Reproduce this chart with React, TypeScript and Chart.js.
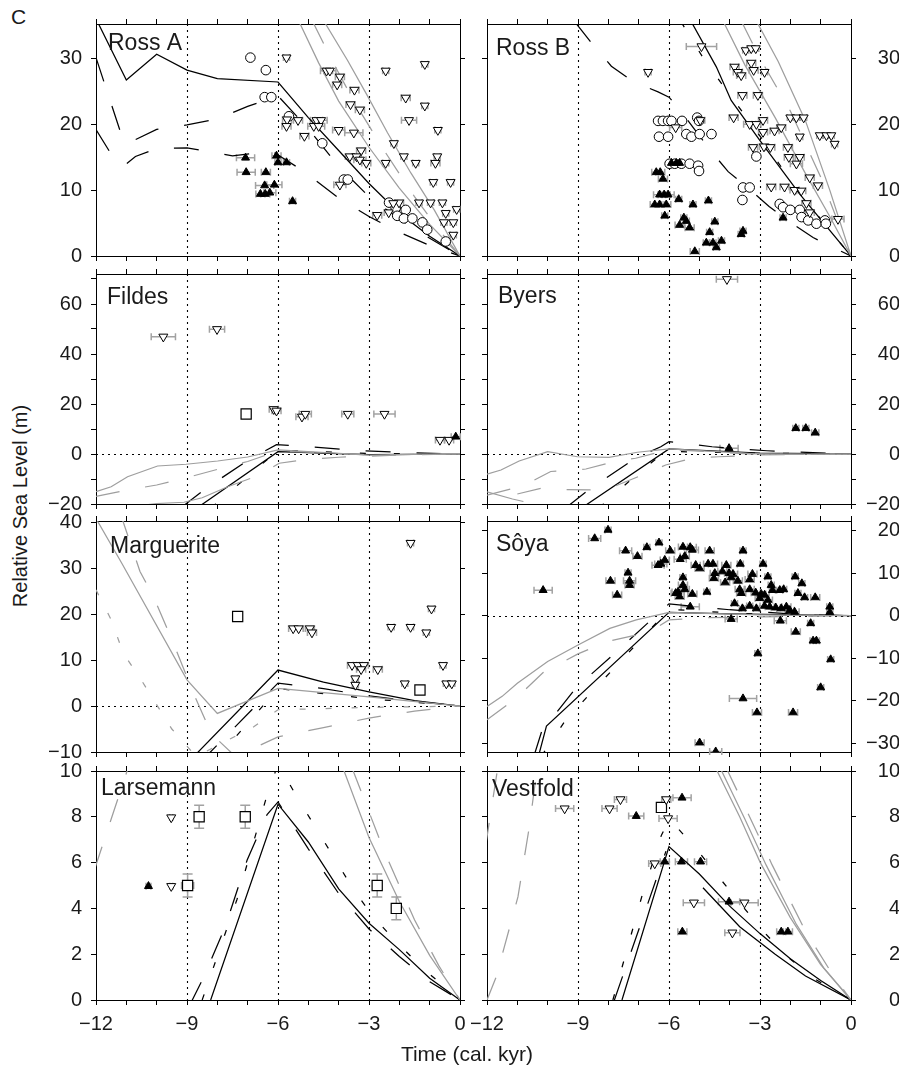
import React, { useEffect, useRef } from 'react';
import { Chart, registerables } from 'chart.js';

Chart.register(...registerables);

const FONT = "'Liberation Sans', Arial, Helvetica, sans-serif";
const BLACK = '#000000';
const GRAY = '#9e9e9e';
const ERR_GRAY = '#a2a2a2';
const TEXT = '#1a1a1a';
const SOLID: number[] = [];
const LONG = [25, 26];
const SHORT = [6, 28];
const GLONG = [24, 26];
const GSHORT = [6, 20];

// ---------- axes ----------
const X_TICKS = [-12, -11, -10, -9, -8, -7, -6, -5, -4, -3, -2, -1, 0];
const X_LABELS = [-12, -9, -6, -3, 0];
const REF_X = [-9, -6, -3];
const ROSS_TICKS = [0, 10, 20, 30];
const SHET_TICKS = [-20, -10, 0, 10, 20, 30, 40, 50, 60, 70];
const SHET_LABELS = [-20, 0, 20, 40, 60];
const MARG_TICKS = [-10, 0, 10, 20, 30, 40];
const SOYA_TICKS = [-30, -20, -10, 0, 10, 20];
const EAST_TICKS = [0, 2, 4, 6, 8, 10];

// ---------- Ross A ----------
const rossA_blkSolid = [[-12, 36], [-11, 26.7], [-10, 30.6], [-9, 28.2], [-8, 26.9], [-6, 26.4], [-5, 21], [-4, 16], [-3, 11], [-2, 6.5], [-1, 3], [0, 0]];
const rossA_blkLong = [[-12, 30.1], [-11.2, 18.9], [-11, 17], [-10, 19.2], [-9, 19.9], [-8, 20.8], [-7, 22.7], [-6, 24.3], [-5, 19.3], [-4, 13.6], [-3, 9], [-2, 5.6], [-1, 2.7], [0, 0]];
const rossA_blkLow = [[-12, 19.2], [-11.4, 14.7], [-11.1, 13.6], [-10.7, 15.1], [-10, 16.3], [-9, 16.4], [-7.5, 15.2], [-6.2, 15.9], [-5.2, 13], [-4, 8.8], [-3, 6], [-2, 3.6], [-1, 1.6], [0, 0]];
const rossA_graySolid1 = [[-5.3, 35.5], [-4.66, 29.3], [-4, 23.5], [-3, 16.5], [-2, 10.3], [-1, 4.8], [0, 0]];
const rossA_grayLong = [[-4.85, 35.5], [-4.2, 29.5], [-3.5, 23.5], [-2.5, 16], [-1.5, 9], [-0.7, 4], [0, 0]];
const rossA_graySolid2 = [[-4.43, 35.2], [-3.71, 29.7], [-3.05, 24.3], [-2.39, 18.7], [-1.62, 12.6], [-0.85, 7], [0, 0]];
const rossA_circles = [[-6.91, 30.1], [-6.4, 28.2], [-6.44, 24.1], [-6.22, 24.1], [-5.64, 21.2], [-4.54, 17.1], [-3.83, 11.6], [-3.7, 11.6], [-2.34, 8.1], [-2.12, 7.3], [-1.79, 7.0], [-2.07, 6.1], [-1.85, 5.7], [-1.57, 5.7], [-1.24, 5.1], [-1.08, 4.0], [-0.47, 2.2]];
const rossA_openTri = [[-5.72, 30.1, 0.1], [-4.4, 28.1, 0.2], [-4.29, 28.1, 0.2], [-3.96, 27.2, 0.15], [-4.05, 26.0, 0.15], [-3.48, 25.2, 0.15], [-3.61, 23.0, 0.15], [-3.3, 22.2, 0.15], [-5.7, 20.7, 0.15], [-5.34, 20.6, 0.15], [-5.72, 19.7, 0.15], [-4.73, 20.6, 0.2], [-4.58, 20.6, 0.2], [-4.82, 19.7, 0.2], [-4.66, 19.7, 0.2], [-5.13, 18.2, 0.15], [-4.0, 19.1, 0.2], [-3.5, 18.7, 0.3], [-3.26, 16.0, 0.15], [-3.63, 15.1, 0.15], [-3.41, 15.1, 0.15], [-3.3, 14.6, 0.2], [-3.09, 14.1, 0.15], [-3.96, 10.8, 0.2], [-2.45, 28.1, 0.1], [-1.79, 24.0, 0.15], [-1.16, 22.8, 0.1], [-1.16, 29.1, 0.1], [-1.68, 20.6, 0.25], [-0.73, 19.1, 0.1], [-2.18, 17.1, 0.1], [-1.85, 15.1, 0.1], [-1.46, 14.1, 0.1], [-0.75, 15.1, 0.1], [-0.81, 14.1, 0.15], [-2.45, 14.1, 0.1], [-0.88, 11.2, 0.1], [-0.31, 11.2, 0.1], [-2.73, 6.2, 0.15], [-2.01, 8.1, 0.15], [-1.35, 8.1, 0.1], [-0.97, 8.1, 0.1], [-0.58, 8.1, 0.1], [-0.11, 7.1, 0.1], [-0.47, 6.5, 0.1], [-0.53, 5.1, 0.1], [-0.22, 5.1, 0.1], [-0.22, 3.2, 0.1], [-2.2, 8.0, 0.15], [-2.35, 6.6, 0.15]];
const rossA_filledTri = [[-7.07, 14.9, 0.3], [-7.05, 12.7, 0.3], [-6.4, 12.7, 0.15], [-6.44, 10.7, 0.3], [-6.12, 10.8, 0.25], [-6.58, 9.4, 0.15], [-6.42, 9.4, 0.15], [-6.27, 9.6, 0.2], [-6.05, 15.2, 0.15], [-6.0, 14.2, 0.1], [-5.72, 14.2, 0.1], [-5.52, 8.3, 0.1]];

// ---------- Ross B ----------
const rossB_blkSolid = [[-5.26, 35.5], [-4.44, 28.7], [-3.95, 23.6], [-3, 17.5], [-1.69, 9.4], [0, 0]];
const rossB_blkLong = [[-9.1, 35.5], [-8.5, 32], [-7.9, 28.8], [-7.2, 26.5], [-6.36, 24.9], [-6, 24.1], [-5.7, 22.5], [-5.04, 18.5], [-4.63, 16], [-4.05, 12.8], [-3.56, 11], [-2.7, 7.5], [-2, 5.1], [-1.25, 2.8], [-0.46, 1.0], [0, 0]];
const rossB_blkShort = [[-5.6, 35.5], [-4.8, 29.5], [-4, 24.5], [-3, 18.2], [-2, 11.5], [-1, 5.6], [0, 0]];
const rossB_graySolid1 = [[-4.2, 35.5], [-3.5, 29], [-2.5, 21], [-1.5, 12.5], [-0.7, 6], [0, 0]];
const rossB_grayLong = [[-3.6, 35.5], [-3, 30], [-2, 22], [-1, 12], [0, 0]];
const rossB_graySolid2 = [[-3.1, 35.5], [-2.4, 29.5], [-1.5, 20.5], [-0.7, 10], [0, 0]];
const rossB_circles = [[-6.36, 20.5], [-6.2, 20.5], [-6.03, 20.5], [-5.92, 20.5], [-5.57, 20.5], [-5.07, 21.0], [-5.01, 20.5], [-6.33, 18.1], [-6.03, 18.1], [-5.43, 18.5], [-5.26, 18.1], [-4.99, 18.5], [-4.6, 18.5], [-5.98, 14.0], [-5.81, 14.0], [-5.59, 14.0], [-5.32, 14.0], [-5.04, 13.7], [-5.01, 12.9], [-3.56, 10.4], [-3.34, 10.4], [-3.58, 8.5], [-3.12, 15.1], [-2.35, 7.9], [-2.24, 7.4], [-2.0, 7.0], [-1.69, 7.0], [-1.63, 5.9], [-1.41, 5.4], [-1.14, 4.9], [-0.86, 5.4], [-0.83, 4.9]];
const rossB_openTri = [[-4.93, 31.8, 0.5], [-6.69, 27.9, 0.1], [-3.47, 31.2, 0.1], [-3.29, 31.5, 0.1], [-3.14, 31.5, 0.1], [-3.29, 29.3, 0.15], [-3.84, 28.7, 0.15], [-3.73, 27.9, 0.15], [-3.62, 27.4, 0.15], [-3.21, 28.2, 0.15], [-2.85, 27.9, 0.1], [-3.58, 24.4, 0.15], [-3.07, 24.4, 0.15], [-3.87, 21.0, 0.15], [-3.34, 20.0, 0.2], [-3.12, 20.0, 0.15], [-2.9, 20.6, 0.15], [-2.9, 18.8, 0.15], [-2.52, 19.0, 0.15], [-2.3, 19.5, 0.15], [-2.0, 21.0, 0.1], [-1.8, 21.0, 0.1], [-1.56, 21.0, 0.1], [-1.69, 18.1, 0.1], [-3.23, 16.5, 0.15], [-2.87, 16.6, 0.15], [-2.66, 16.5, 0.15], [-2.08, 16.5, 0.15], [-2.05, 15.0, 0.15], [-1.69, 15.0, 0.15], [-1.8, 14.0, 0.2], [-1.36, 11.9, 0.15], [-2.63, 10.5, 0.15], [-2.19, 10.5, 0.15], [-1.86, 10.0, 0.15], [-1.64, 9.9, 0.15], [-1.09, 10.7, 0.15], [-1.47, 8.0, 0.15], [-1.36, 6.6, 0.15], [-0.43, 5.6, 0.2], [-1.03, 18.3, 0.1], [-0.81, 18.3, 0.1], [-0.65, 18.3, 0.1], [-0.54, 17.0, 0.1], [-5.78, 19.5, 0.2], [-4.97, 20.6, 0.15]];
const rossB_filledTri = [[-5.92, 14.1, 0.1], [-5.76, 14.1, 0.1], [-5.65, 14.1, 0.1], [-6.42, 12.7, 0.15], [-6.29, 12.7, 0.15], [-6.2, 11.7, 0.15], [-6.31, 9.3, 0.2], [-6.16, 9.3, 0.2], [-6.03, 9.3, 0.2], [-6.47, 7.8, 0.15], [-6.31, 7.8, 0.15], [-6.09, 7.8, 0.15], [-6.14, 6.1, 0.1], [-5.68, 8.6, 0.1], [-5.21, 7.8, 0.1], [-4.7, 8.4, 0.1], [-5.51, 5.8, 0.1], [-5.43, 5.3, 0.1], [-5.65, 4.7, 0.15], [-5.32, 4.3, 0.15], [-4.49, 5.2, 0.1], [-4.66, 3.6, 0.1], [-4.77, 2.0, 0.1], [-4.55, 2.0, 0.1], [-4.44, 1.3, 0.1], [-4.27, 2.3, 0.1], [-5.15, 0.7, 0.15], [-3.62, 3.3, 0.1], [-3.56, 3.8, 0.1], [-2.24, 5.8, 0.1]];

// ---------- Fildes ----------
const fildes_blkSolid = [[-8.66, -21.5], [-6, 0.9], [-3, -0.2], [0, 0]];
const fildes_blkLong = [[-9.2, -21.5], [-8.37, -13.7], [-6.89, -1.7], [-6.05, 3.7], [-5.2, 3.2], [-3.5, 1.5], [-1.7, 0.5], [0, 0]];
const fildes_blkShort = [[-8.2, -21.5], [-7.0, -9], [-6, 1.5], [-3, 0.2], [0, 0]];
const fildes_graySolid = [[-12, -15.1], [-11.5, -13.1], [-10.96, -9.1], [-9.97, -4.8], [-9.03, -4.1], [-7.99, -2.8], [-7, -1.2], [-6, 1.6], [-3, -0.4], [0, 0.2]];
const fildes_graySolidLow = [[-12, -23], [-10, -19.8], [-9.1, -19.3], [-8.5, -17.5], [-7.66, -13.1]];
const fildes_grayLong1 = [[-12, -17], [-11, -14.5], [-10, -12.4], [-8.9, -9.1], [-7.8, -5.5], [-7, -3], [-6, 1.2], [-3, -0.3], [0, 0]];
const fildes_grayLong2 = [[-7.66, -13.1], [-6.6, -8.4], [-5.96, -3.7], [-5, -2.1], [-4, -1.3], [-2, -0.4], [0, 0]];
const fildes_openTri = [[-9.78, 46.9, 0.4], [-8.01, 49.9, 0.25], [-6.14, 17.9, 0.15], [-6.05, 17.3, 0.15], [-5.21, 14.9, 0.2], [-5.1, 16, 0.2], [-3.7, 16, 0.2], [-2.49, 16, 0.35], [-0.66, 5.6, 0.15], [-0.36, 5.6, 0.15]];
const fildes_squares = [[-7.05, 16, 0, 0]];
const fildes_filledTri = [[-0.14, 6.9, 0.15]];

// ---------- Byers ----------
const byers_blkSolid = [[-8.87, -21.5], [-6, 2], [-3, 0.4], [0, 0]];
const byers_blkLong = [[-9.4, -21.5], [-8.58, -13.7], [-7.1, -1.7], [-6.27, 2.9], [-6, 4.9], [-5.45, 4.3], [-4.58, 2.9], [-3.7, 2.0], [-2.77, 1.3], [-1.95, 0.9], [0, 0]];
const byers_blkShort = [[-8.3, -21.5], [-7.15, -9.1], [-6.27, -0.4], [-6, 1.0], [-3, 0.3], [0, 0]];
const byers_graySolid = [[-12, -8.1], [-11.54, -6.4], [-10.94, -2.8], [-10, 0.9], [-9.02, -1.1], [-7.98, -1.3], [-7.04, 0.7], [-6, 2], [-3, 0], [0, 0]];
const byers_graySolidLow = [[-12, -15.1], [-11.16, -18], [-10.8, -19]];
const byers_grayLong1 = [[-12, -16.5], [-10.9, -13], [-10.7, -12.1], [-9.9, -7], [-8.74, -6], [-7.6, -2.4], [-7.1, -1.7], [-6, 1.8], [-3, -0.2], [0, 0]];
const byers_grayLong2 = [[-11, -16], [-10.2, -13.7], [-9.5, -14.2], [-8.1, -14.4], [-6.88, -8.4], [-6.11, -4.4], [-5.23, -1.7], [-4.36, -1.1], [-3, -0.4], [0, 0]];
const byers_openTri = [[-4.09, 69.9, 0.35]];
const byers_filledTri = [[-4.02, 2.3, 0.3], [-1.82, 10.3, 0.1], [-1.49, 10.3, 0.1], [-1.18, 8.5, 0.12]];

// ---------- Marguerite ----------
const marg_blkSolid = [[-9, -12.5], [-6, 7.85], [-4.5, 5.2], [-3, 3.1], [-1.5, 1.2], [0, 0]];
const marg_blkLong = [[-8.6, -12.5], [-6, 5], [-4.5, 3.8], [-3, 2.2], [-1.5, 1.0], [0, 0]];
const marg_blkShort = [[-8.1, -12], [-6, 3.8], [-3, 1.6], [0, 0]];
const marg_graySolid = [[-12.1, 42], [-11.15, 31.1], [-9, 5.7], [-8, -1.6], [-6, 3.85], [-3, 2], [0, 0]];
const marg_grayLong = [[-11.2, 42], [-10.55, 29.3], [-10.13, 24.2], [-9.45, 13.7], [-8.8, 3], [-8.2, -6], [-7.4, -11], [-6, -6.7], [-4.5, -4.7], [-3, -2.6], [-1.5, -1.1], [0, 0]];
const marg_grayShort = [[-12, 25.3], [-11.5, 18.8], [-11.1, 11.5], [-10.5, 5.6], [-9.5, -5], [-8.7, -11], [-6.8, -4.5], [-6, -0.8], [-3, -0.3], [0, 0]];
const marg_squares = [[-7.33, 19.5, 0, 0], [-1.32, 3.5, 0, 0]];
const marg_openTri = [[-5.5, 16.9, 0.15], [-5.32, 16.9, 0.15], [-4.95, 16.9, 0.15], [-4.88, 16.0, 0.15], [-3.56, 8.9, 0.15], [-3.37, 8.9, 0.15], [-3.17, 8.9, 0.15], [-3.26, 8.0, 0.15], [-3.45, 6.0, 0.1], [-3.45, 4.6, 0.1], [-2.71, 8.0, 0.15], [-2.27, 17.2, 0.1], [-1.63, 17.2, 0.1], [-1.63, 35.5, 0.1], [-1.11, 16.0, 0.1], [-0.94, 21.2, 0.1], [-1.82, 4.9, 0.1], [-0.56, 8.9, 0.1], [-0.45, 4.9, 0.1], [-0.27, 4.9, 0.1]];

// ---------- Sôya ----------
const soya_blkSolid = [[-10.3, -33], [-10.04, -26], [-6, 0.8], [-4, 0.4], [0, 0]];
const soya_blkLong = [[-10.45, -33], [-10.2, -27.3], [-9.07, -17], [-7.76, -8.7], [-6.47, -0.2], [-6, 2.8], [-5, 2.1], [-4, 1.4], [-2, 0.4], [0, 0]];
const soya_blkShort = [[-10.2, -33], [-9.4, -24.5], [-6, 1.5], [-3, 0.3], [0, 0]];
const soya_graySolid = [[-12, -21.4], [-11.5, -19], [-11, -15.9], [-10, -10.8], [-9, -6.9], [-7.95, -3], [-7.08, -1], [-6, 0.8], [-3, 0.2], [0, 0]];
const soya_grayLong = [[-12, -24.5], [-11.05, -19.5], [-10.15, -13.4], [-9, -9], [-8, -6], [-7, -4.4], [-6.3, -2.3], [-6, -1], [-5, -0.5], [0, 0]];
const soya_filledTri = [[-10.15, 6.0, 0.3], [-8.45, 18.2, 0.2], [-8.01, 20.2, 0.1], [-7.43, 15.3, 0.2], [-7.04, 14.0, 0.15], [-6.73, 16.1, 0.1], [-6.33, 17.2, 0.1], [-7.35, 10.1, 0.1], [-7.93, 8.2, 0.15], [-7.3, 8.2, 0.2], [-7.3, 7.2, 0.15], [-7.71, 4.9, 0.15], [-6.27, 12.2, 0.2], [-6.14, 13.1, 0.15], [-6.36, 11.9, 0.2], [-5.96, 15.3, 0.15], [-5.54, 16.2, 0.15], [-5.48, 14.0, 0.15], [-5.3, 16.1, 0.2], [-5.23, 15.5, 0.2], [-5.63, 13.3, 0.2], [-5.12, 11.9, 0.15], [-4.99, 11.1, 0.15], [-4.71, 12.2, 0.15], [-4.55, 12.2, 0.15], [-4.66, 15.3, 0.15], [-3.56, 15.3, 0.1], [-4.11, 11.9, 0.15], [-3.65, 12.2, 0.1], [-2.9, 12.2, 0.1], [-4.49, 10.0, 0.15], [-4.24, 10.4, 0.15], [-4.02, 10.0, 0.15], [-3.89, 9.8, 0.15], [-4.52, 8.8, 0.15], [-4.15, 7.8, 0.15], [-3.95, 9.0, 0.15], [-3.25, 9.8, 0.15], [-3.34, 8.5, 0.15], [-2.74, 9.2, 0.1], [-3.73, 8.2, 0.15], [-5.54, 9.0, 0.1], [-5.54, 7.2, 0.15], [-5.48, 6.2, 0.15], [-5.7, 5.6, 0.2], [-5.78, 5.3, 0.15], [-5.65, 4.5, 0.15], [-5.23, 5.1, 0.15], [-4.75, 5.6, 0.1], [-5.3, 2.1, 0.3], [-3.67, 6.2, 0.15], [-3.62, 5.3, 0.15], [-3.34, 6.2, 0.15], [-3.14, 5.4, 0.15], [-2.96, 5.1, 0.15], [-2.85, 4.9, 0.15], [-2.74, 3.7, 0.15], [-3.01, 4.1, 0.15], [-2.63, 7.2, 0.1], [-2.59, 6.0, 0.1], [-2.35, 6.0, 0.1], [-2.22, 6.2, 0.1], [-3.34, 2.3, 0.1], [-3.12, 1.7, 0.1], [-2.85, 2.3, 0.15], [-2.68, 2.1, 0.15], [-2.48, 1.9, 0.15], [-2.3, 1.7, 0.15], [-2.13, 2.1, 0.15], [-2.02, 1.3, 0.15], [-1.86, 0.9, 0.15], [-3.84, 2.9, 0.1], [-3.58, 1.7, 0.1], [-1.84, 9.2, 0.1], [-1.62, 7.6, 0.1], [-1.75, 5.3, 0.1], [-1.53, 4.3, 0.1], [-1.18, 4.3, 0.15], [-0.7, 2.1, 0.1], [-0.7, 0.8, 0.1], [-3.95, -0.8, 0.2], [-2.33, -1.2, 0.2], [-1.82, -3.8, 0.15], [-1.33, -1.8, 0.1], [-1.25, -5.9, 0.1], [-1.14, -5.9, 0.1], [-3.07, -8.9, 0.1], [-0.67, -10.3, 0.1], [-1.0, -16.9, 0.1], [-3.56, -19.5, 0.45], [-3.1, -22.8, 0.15], [-1.91, -22.8, 0.15], [-4.99, -29.9, 0.15], [-4.46, -32, 0.2]];

// ---------- Larsemann ----------
const lars_blkSolid = [[-8.22, 0], [-6, 8.55], [-5, 6.9], [-4, 4.85], [-3, 3.35], [-2, 2.2], [-1, 0.95], [0, 0]];
const lars_blkLong = [[-8.9, -0.2], [-8.45, 1.0], [-7.74, 3.2], [-7.02, 6.1], [-6.36, 8.1], [-6, 8.65], [-5, 6.6], [-4, 4.65], [-3, 3.1], [-2, 1.9], [-1, 0.8], [0, 0]];
const lars_blkShort = [[-8.5, 0], [-7.35, 4.4], [-6.36, 8.95], [-6, 10.3], [-5.3, 8.7], [-4.7, 7.4], [-4.1, 6.1], [-3.5, 4.8], [-2.84, 3.6], [-2.07, 2.5], [-1.24, 1.4], [0, 0]];
const lars_graySolid = [[-3.85, 10.1], [-3, 7.1], [-2, 4.3], [-1, 1.95], [0, 0]];
const lars_grayLong = [[-3.55, 10.1], [-2.5, 6.5], [-1.5, 3.5], [-0.7, 1.5], [0, 0]];
const lars_grayLeft = [[-12.05, 5.7], [-10.9, 10.3]];
const lars_filledTri = [[-10.27, 4.97, 0.08]];
const lars_openTri = [[-9.52, 7.97, 0.05], [-9.52, 4.97, 0.05]];
const lars_squares = [[-8.6, 8.0, 0, 0.5], [-7.08, 8.0, 0, 0.5], [-8.98, 5.0, 0.2, 0.5], [-2.73, 5.0, 0, 0.5], [-2.1, 4.0, 0, 0.5]];

// ---------- Vestfold ----------
const vest_blkSolid = [[-7.55, 0], [-6, 6.7], [-5, 5.5], [-4, 4.1], [-3, 2.9], [-2, 1.8], [-1, 0.85], [0, 0]];
const vest_blkSolidLow = [[-4.88, 4.9], [-3.67, 3.2], [-2.5, 2.0], [-1.5, 1.05], [0, 0]];
const vest_blkLong = [[-7.8, 0], [-6.1, 6.5]];
const vest_blkShort = [[-7.85, 0], [-6.9, 4.5], [-6.25, 7.2], [-5.98, 7.9], [-5.1, 6.6], [-4.44, 5.5], [-2.96, 3.1], [-2.19, 2.0], [-1.3, 1.0], [0, 0]];
const vest_graySolid1 = [[-4.45, 10.1], [-3.67, 8], [-2.99, 6], [-2, 3.6], [-1, 1.55], [0, 0]];
const vest_graySolid2 = [[-4.3, 10.1], [-3.5, 7.9], [-2.8, 5.9], [-1.8, 3.3], [-0.9, 1.4], [0, 0]];
const vest_grayLong = [[-4.1, 10.1], [-3.2, 7.6], [-2.6, 5.9], [-1.5, 3.0], [-0.6, 1.1], [0, 0]];
const vest_grayLeft1 = [[-12, 0], [-11.7, 1.0], [-10.98, 4.5], [-10.6, 7.6], [-10.35, 10.1]];
const vest_grayLeft2 = [[-12.05, 6.7], [-11.65, 10.1]];
const vest_openTri = [[-9.44, 8.36, 0.3], [-7.96, 8.36, 0.25], [-7.6, 8.76, 0.2], [-6.09, 8.76, 0.15], [-6.03, 7.93, 0.3], [-6.47, 5.96, 0.2], [-5.18, 4.25, 0.35], [-3.51, 4.25, 0.45], [-3.91, 2.94, 0.25]];
const vest_filledTri = [[-7.08, 8.03, 0.25], [-5.57, 8.83, 0.3], [-6.14, 6.04, 0.15], [-5.59, 6.04, 0.2], [-4.96, 6.04, 0.2], [-4.02, 4.29, 0.35], [-5.56, 2.98, 0.15], [-2.3, 2.98, 0.15], [-2.08, 2.98, 0.15]];
const vest_squares = [[-6.25, 8.41, 0.15, 0]];

// ---------- layout ----------
const COLS = [{ x: 96, w: 364 }, { x: 487, w: 364 }];
const ROWS = [{ y: 24, h: 232 }, { y: 274, h: 230 }, { y: 521, h: 231 }, { y: 771, h: 229 }];
const RIGHT_LABEL_EDGE = 900;
const TICK_LEN = 5;
const TICK_FONT_SIZE = 20;

type LineDef = { data: number[][]; color: string; dash: number[]; width?: number };
type PtKind = 'open' | 'filled' | 'circle' | 'square';
type PtDef = { data: number[][]; kind: PtKind };
type Panel = {
  key: string; label: string; col: number; row: number;
  yMin: number; yMax: number; yTicks: number[]; yLabels: number[];
  zero: boolean; lx: number; ly: number;
  lines: LineDef[]; pts: PtDef[];
};

const ln = (data: number[][], color: string, dash: number[], width = 1.25): LineDef => ({ data, color, dash, width });

const PANELS: Panel[] = [
  {
    key: 'rossA', label: 'Ross A', col: 0, row: 0, yMin: 0, yMax: 35.2, yTicks: ROSS_TICKS, yLabels: ROSS_TICKS, zero: false, lx: 12, ly: 26,
    lines: [ln(rossA_graySolid1, GRAY, SOLID), ln(rossA_grayLong, GRAY, GLONG), ln(rossA_graySolid2, GRAY, SOLID), ln(rossA_blkLong, BLACK, LONG), ln(rossA_blkLow, BLACK, LONG), ln(rossA_blkSolid, BLACK, SOLID)],
    pts: [{ data: rossA_filledTri, kind: 'filled' }, { data: rossA_openTri, kind: 'open' }, { data: rossA_circles, kind: 'circle' }],
  },
  {
    key: 'rossB', label: 'Ross B', col: 1, row: 0, yMin: 0, yMax: 35.2, yTicks: ROSS_TICKS, yLabels: ROSS_TICKS, zero: false, lx: 9, ly: 31,
    lines: [ln(rossB_graySolid1, GRAY, SOLID), ln(rossB_grayLong, GRAY, GLONG), ln(rossB_graySolid2, GRAY, SOLID), ln(rossB_blkLong, BLACK, LONG), ln(rossB_blkShort, BLACK, SHORT), ln(rossB_blkSolid, BLACK, SOLID)],
    pts: [{ data: rossB_filledTri, kind: 'filled' }, { data: rossB_openTri, kind: 'open' }, { data: rossB_circles, kind: 'circle' }],
  },
  {
    key: 'fildes', label: 'Fildes', col: 0, row: 1, yMin: -20, yMax: 72, yTicks: SHET_TICKS, yLabels: SHET_LABELS, zero: true, lx: 11, ly: 30,
    lines: [ln(fildes_graySolid, GRAY, SOLID), ln(fildes_graySolidLow, GRAY, SOLID), ln(fildes_grayLong1, GRAY, GLONG), ln(fildes_grayLong2, GRAY, GLONG), ln(fildes_blkLong, BLACK, LONG), ln(fildes_blkShort, BLACK, SHORT), ln(fildes_blkSolid, BLACK, SOLID)],
    pts: [{ data: fildes_filledTri, kind: 'filled' }, { data: fildes_openTri, kind: 'open' }, { data: fildes_squares, kind: 'square' }],
  },
  {
    key: 'byers', label: 'Byers', col: 1, row: 1, yMin: -20, yMax: 72, yTicks: SHET_TICKS, yLabels: SHET_LABELS, zero: true, lx: 11, ly: 29,
    lines: [ln(byers_graySolid, GRAY, SOLID), ln(byers_graySolidLow, GRAY, SOLID), ln(byers_grayLong1, GRAY, GLONG), ln(byers_grayLong2, GRAY, GLONG), ln(byers_blkLong, BLACK, LONG), ln(byers_blkShort, BLACK, SHORT), ln(byers_blkSolid, BLACK, SOLID)],
    pts: [{ data: byers_filledTri, kind: 'filled' }, { data: byers_openTri, kind: 'open' }],
  },
  {
    key: 'marg', label: 'Marguerite', col: 0, row: 2, yMin: -10, yMax: 40.3, yTicks: MARG_TICKS, yLabels: MARG_TICKS, zero: true, lx: 14, ly: 32,
    lines: [ln(marg_graySolid, GRAY, SOLID), ln(marg_grayLong, GRAY, GLONG), ln(marg_grayShort, GRAY, GSHORT), ln(marg_blkLong, BLACK, LONG), ln(marg_blkShort, BLACK, SHORT), ln(marg_blkSolid, BLACK, SOLID)],
    pts: [{ data: marg_openTri, kind: 'open' }, { data: marg_squares, kind: 'square' }],
  },
  {
    key: 'soya', label: 'Sôya', col: 1, row: 2, yMin: -32.1, yMax: 22.3, yTicks: SOYA_TICKS, yLabels: SOYA_TICKS, zero: true, lx: 9, ly: 30,
    lines: [ln(soya_graySolid, GRAY, SOLID), ln(soya_grayLong, GRAY, GLONG), ln(soya_blkLong, BLACK, LONG), ln(soya_blkShort, BLACK, SHORT), ln(soya_blkSolid, BLACK, SOLID)],
    pts: [{ data: soya_filledTri, kind: 'filled' }],
  },
  {
    key: 'lars', label: 'Larsemann', col: 0, row: 3, yMin: 0, yMax: 10, yTicks: EAST_TICKS, yLabels: EAST_TICKS, zero: false, lx: 5, ly: 24,
    lines: [ln(lars_graySolid, GRAY, SOLID), ln(lars_grayLong, GRAY, GLONG), ln(lars_grayLeft, GRAY, GLONG), ln(lars_blkLong, BLACK, LONG), ln(lars_blkShort, BLACK, SHORT), ln(lars_blkSolid, BLACK, SOLID)],
    pts: [{ data: lars_filledTri, kind: 'filled' }, { data: lars_openTri, kind: 'open' }, { data: lars_squares, kind: 'square' }],
  },
  {
    key: 'vest', label: 'Vestfold', col: 1, row: 3, yMin: 0, yMax: 10, yTicks: EAST_TICKS, yLabels: EAST_TICKS, zero: false, lx: 5, ly: 25,
    lines: [ln(vest_graySolid1, GRAY, SOLID), ln(vest_graySolid2, GRAY, SOLID), ln(vest_grayLong, GRAY, GLONG), ln(vest_grayLeft1, GRAY, GLONG), ln(vest_grayLeft2, GRAY, GLONG), ln(vest_blkLong, BLACK, LONG), ln(vest_blkShort, BLACK, SHORT), ln(vest_blkSolidLow, BLACK, SOLID), ln(vest_blkSolid, BLACK, SOLID)],
    pts: [{ data: vest_filledTri, kind: 'filled' }, { data: vest_openTri, kind: 'open' }, { data: vest_squares, kind: 'square' }],
  },
];

const fmt = (v: number) => (v < 0 ? '\u2212' + Math.abs(v) : String(v));

const STYLE: Record<PtKind, any> = {
  open: { pointStyle: 'triangle', pointRotation: 180, pointRadius: 5.2, pointBackgroundColor: '#ffffff', pointBorderColor: BLACK, pointBorderWidth: 1 },
  filled: { pointStyle: 'triangle', pointRotation: 0, pointRadius: 4.6, pointBackgroundColor: BLACK, pointBorderColor: BLACK, pointBorderWidth: 1 },
  circle: { pointStyle: 'circle', pointRotation: 0, pointRadius: 4.8, pointBackgroundColor: '#ffffff', pointBorderColor: BLACK, pointBorderWidth: 1 },
  square: { pointStyle: 'rect', pointRotation: 0, pointRadius: 7.2, pointBackgroundColor: '#ffffff', pointBorderColor: BLACK, pointBorderWidth: 1.2 },
};

const decorPlugin = {
  id: 'decor',
  beforeDatasetsDraw(chart: any, _args: any, opts: any) {
    const { ctx, chartArea: a, scales } = chart;
    const xs = scales.x;
    const ys = scales.y;
    ctx.save();
    ctx.beginPath();
    ctx.rect(a.left, a.top, a.right - a.left, a.bottom - a.top);
    ctx.clip();
    ctx.strokeStyle = BLACK;
    ctx.lineWidth = 1.1;
    ctx.setLineDash([2, 4]);
    for (const v of REF_X) {
      const px = Math.round(xs.getPixelForValue(v)) + 0.5;
      ctx.beginPath();
      ctx.moveTo(px, a.top);
      ctx.lineTo(px, a.bottom);
      ctx.stroke();
    }
    if (opts.zero) {
      const py = Math.round(ys.getPixelForValue(0)) + 0.5;
      ctx.beginPath();
      ctx.moveTo(a.left, py);
      ctx.lineTo(a.right, py);
      ctx.stroke();
    }
    ctx.restore();
    // error bars
    ctx.save();
    ctx.strokeStyle = ERR_GRAY;
    ctx.lineWidth = 1.5;
    ctx.setLineDash([]);
    chart.data.datasets.forEach((ds: any) => {
      if (!ds.err) return;
      ds.data.forEach((p: any, i: number) => {
        const [xe, ye] = ds.err[i];
        const cx = xs.getPixelForValue(p.x);
        const cy = ys.getPixelForValue(p.y);
        if (xe > 0) {
          const x1 = xs.getPixelForValue(p.x - xe);
          const x2 = xs.getPixelForValue(p.x + xe);
          ctx.beginPath();
          ctx.moveTo(x1, cy); ctx.lineTo(x2, cy);
          ctx.moveTo(x1, cy - 3.5); ctx.lineTo(x1, cy + 3.5);
          ctx.moveTo(x2, cy - 3.5); ctx.lineTo(x2, cy + 3.5);
          ctx.stroke();
        }
        if (ye > 0) {
          const y1 = ys.getPixelForValue(p.y - ye);
          const y2 = ys.getPixelForValue(p.y + ye);
          ctx.beginPath();
          ctx.moveTo(cx, y1); ctx.lineTo(cx, y2);
          ctx.moveTo(cx - 5, y1); ctx.lineTo(cx + 5, y1);
          ctx.moveTo(cx - 5, y2); ctx.lineTo(cx + 5, y2);
          ctx.stroke();
        }
      });
    });
    ctx.restore();
  },
  afterDatasetsDraw(chart: any, _args: any, opts: any) {
    const { ctx, chartArea: a } = chart;
    ctx.save();
    ctx.font = `23px ${FONT}`;
    ctx.fillStyle = TEXT;
    ctx.textBaseline = 'alphabetic';
    ctx.textAlign = 'left';
    ctx.fillText(opts.label, a.left + opts.lx, a.top + opts.ly);
    ctx.restore();
  },
};

function makeScale(position: string, min: number, max: number, ticks: number[], labels: number[], show: boolean, size: number, crossAlign = 'near') {
  const horizontal = position === 'top' || position === 'bottom';
  return {
    type: 'linear',
    position,
    min,
    max,
    afterBuildTicks: (s: any) => { s.ticks = ticks.map((v) => ({ value: v })); },
    afterFit: (s: any) => {
      if (horizontal) {
        s.height = size;
      } else {
        s.width = size;
        s.paddingTop = Math.min(s.paddingTop || 0, 12);
        s.paddingBottom = Math.min(s.paddingBottom || 0, 12);
      }
    },
    ticks: {
      autoSkip: false,
      maxRotation: 0,
      minRotation: 0,
      padding: horizontal ? 7 : 9,
      crossAlign,
      font: { family: FONT, size: TICK_FONT_SIZE },
      color: TEXT,
      callback: (v: number) => (show && labels.includes(v) ? fmt(v) : ''),
    },
    grid: { display: true, drawOnChartArea: false, drawTicks: true, tickLength: TICK_LEN, tickColor: BLACK, tickWidth: 1, color: BLACK, lineWidth: 1 },
    border: { display: true, color: BLACK, width: 1 },
  };
}

function PanelChart({ p }: { p: Panel }) {
  const ref = useRef<HTMLCanvasElement>(null);
  const col = COLS[p.col];
  const row = ROWS[p.row];
  const rightShown = p.col === 1;
  const L = 60, T = 16;
  // right column: the right axis box ends where its right-aligned labels end
  const R = rightShown ? RIGHT_LABEL_EDGE - (col.x + col.w) : 60;
  const B = p.row === 3 ? 50 : 16;
  const w = col.w + L + R;
  const h = row.h + T + B;

  useEffect(() => {
    if (!ref.current) return;
    const datasets: any[] = [];
    p.pts.forEach((pt) => {
      datasets.push({
        type: 'scatter',
        data: pt.data.map((d) => ({ x: d[0], y: d[1] })),
        err: pt.data.map((d) => [d[2] || 0, d[3] || 0]),
        showLine: false,
        order: 0,
        ...STYLE[pt.kind],
      });
    });
    p.lines.forEach((l) => {
      datasets.push({
        type: 'line',
        data: l.data.map((d) => ({ x: d[0], y: d[1] })),
        borderColor: l.color,
        borderWidth: l.width,
        borderDash: l.dash,
        pointRadius: 0,
        fill: false,
        tension: 0,
        showLine: true,
        order: 1,
      });
    });
    const bottomRow = p.row === 3;
    const chart = new Chart(ref.current, {
      type: 'scatter',
      data: { datasets },
      options: {
        responsive: false,
        maintainAspectRatio: false,
        animation: false,
        events: [],
        layout: { padding: 0 },
        plugins: {
          legend: { display: false },
          tooltip: { enabled: false },
          decor: { zero: p.zero, label: p.label, lx: p.lx, ly: p.ly },
        } as any,
        scales: {
          x: makeScale('bottom', -12, 0, X_TICKS, X_LABELS, bottomRow, B),
          x2: makeScale('top', -12, 0, X_TICKS, X_LABELS, false, T),
          y: makeScale('left', p.yMin, p.yMax, p.yTicks, p.yLabels, p.col === 0, L),
          y2: makeScale('right', p.yMin, p.yMax, p.yTicks, p.yLabels, rightShown, R, rightShown ? 'far' : 'near'),
        } as any,
      },
      plugins: [decorPlugin as any],
    } as any);
    return () => chart.destroy();
  }, []);

  return (
    <canvas
      ref={ref}
      width={w}
      height={h}
      style={{ position: 'absolute', left: col.x - L, top: row.y - T, width: w, height: h }}
    />
  );
}

export default function App() {
  return (
    <div style={{ position: 'absolute', left: 0, top: 0, width: 899, height: 1068, overflow: 'hidden', background: '#ffffff', fontFamily: FONT, color: TEXT }}>
      {PANELS.map((p) => (
        <PanelChart key={p.key} p={p} />
      ))}
      <div style={{ position: 'absolute', left: 11, top: 6, fontSize: 21, lineHeight: '21px' }}>C</div>
      <div style={{ position: 'absolute', left: 467, top: 1043, fontSize: 21, lineHeight: '21px', whiteSpace: 'nowrap', transform: 'translateX(-50%)' }}>Time (cal. kyr)</div>
      <div style={{ position: 'absolute', left: 20, top: 506, fontSize: 20, lineHeight: '20px', whiteSpace: 'nowrap', transform: 'translate(-50%, -50%) rotate(-90deg)' }}>Relative Sea Level (m)</div>
    </div>
  );
}
